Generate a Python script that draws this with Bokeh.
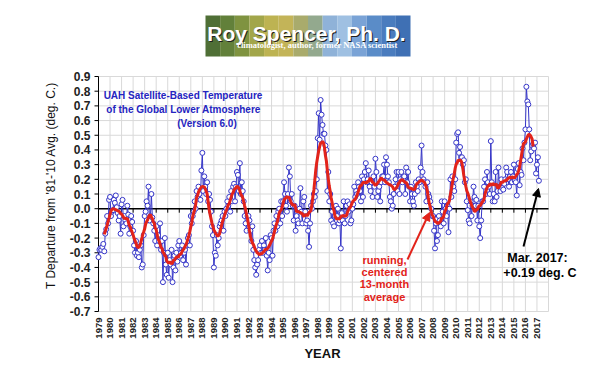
import math
import pandas as pd
from bokeh.plotting import figure
from bokeh.models import Range1d, Label, Arrow, NormalHead, ColumnDataSource
from bokeh.core.properties import value
from bokeh.embed import file_html
from bokeh.resources import INLINE

# ---------------- data: UAH LT v6.0 monthly anomalies (deg C, 1981-2010 base) ----------------
d1979 = [-0.33, -0.28, -0.27, -0.28, -0.26, -0.24, -0.29, -0.17, -0.14, -0.05, -0.10, 0.06]
d1980 = [0.08, -0.05, -0.02, -0.01, 0.06, 0.04, 0.09, 0.01, -0.03, -0.08, -0.05, -0.17]
d1981 = [0.03, 0.06, -0.12, -0.05, -0.08, -0.10, 0.02, -0.04, -0.17, -0.12, -0.05, -0.09]
d1982 = [-0.15, -0.25, -0.30, -0.22, -0.32, -0.30, -0.33, -0.28, -0.25, -0.40, -0.38, -0.18]
d1983 = [-0.05, -0.02, 0.05, 0.02, 0.15, -0.08, -0.05, 0.10, -0.06, -0.10, -0.15, -0.22]
d1984 = [-0.12, -0.25, -0.18, -0.22, -0.10, -0.28, -0.22, -0.50, -0.30, -0.20, -0.38, -0.45]
d1985 = [-0.30, -0.47, -0.35, -0.38, -0.28, -0.50, -0.40, -0.32, -0.42, -0.30, -0.36, -0.25]
d1986 = [-0.22, -0.32, -0.30, -0.25, -0.35, -0.30, -0.28, -0.38, -0.25, -0.20, -0.18, -0.25]
d1987 = [-0.05, -0.10, -0.05, -0.02, 0.05, 0.00, 0.12, 0.08, 0.15, 0.10, 0.06, 0.26]
d1988 = [0.38, 0.12, 0.22, 0.15, 0.10, 0.18, 0.05, 0.10, 0.06, -0.02, -0.12, -0.18]
d1989 = [-0.40, -0.30, -0.32, -0.18, -0.25, -0.20, -0.12, -0.10, -0.08, -0.05, -0.15, -0.02]
d1990 = [-0.05, 0.00, 0.05, 0.02, 0.08, -0.02, 0.12, 0.05, 0.15, 0.17, 0.05, 0.15]
d1991 = [0.25, 0.23, 0.12, 0.31, 0.10, 0.18, 0.12, 0.05, -0.05, -0.10, -0.15, -0.05]
d1992 = [-0.05, -0.08, -0.15, -0.22, -0.12, -0.28, -0.35, -0.40, -0.45, -0.38, -0.35, -0.28]
d1993 = [-0.25, -0.30, -0.22, -0.30, -0.25, -0.28, -0.20, -0.32, -0.42, -0.30, -0.35, -0.18]
d1994 = [-0.20, -0.32, -0.15, -0.10, -0.15, -0.05, -0.12, -0.02, 0.00, -0.10, 0.05, -0.05]
d1995 = [0.05, 0.18, 0.10, 0.02, -0.02, 0.10, 0.28, 0.22, 0.05, 0.10, 0.02, -0.08]
d1996 = [0.02, -0.15, -0.05, -0.08, -0.10, 0.00, 0.14, -0.02, -0.10, 0.05, 0.08, -0.02]
d1997 = [-0.10, -0.08, -0.15, -0.26, -0.10, 0.02, 0.00, 0.05, 0.10, 0.08, 0.12, 0.20]
d1998 = [0.48, 0.65, 0.47, 0.74, 0.64, 0.57, 0.51, 0.51, 0.43, 0.40, 0.12, 0.25]
d1999 = [0.05, 0.10, -0.08, -0.02, -0.10, -0.12, -0.05, 0.02, -0.05, 0.00, -0.10, -0.08]
d2000 = [-0.27, -0.03, -0.08, 0.05, -0.10, -0.05, 0.02, 0.05, -0.02, 0.03, -0.10, -0.08]
d2001 = [0.00, 0.03, 0.15, 0.08, 0.12, 0.10, 0.18, 0.15, 0.12, 0.05, 0.22, 0.08]
d2002 = [0.20, 0.25, 0.31, 0.18, 0.20, 0.26, 0.15, 0.12, 0.18, 0.08, 0.22, 0.15]
d2003 = [0.34, 0.25, 0.08, 0.12, 0.15, 0.05, 0.18, 0.22, 0.22, 0.30, 0.18, 0.35]
d2004 = [0.30, 0.22, 0.18, 0.08, 0.05, 0.00, 0.02, 0.10, 0.15, 0.20, 0.25, 0.12]
d2005 = [0.25, 0.10, 0.20, 0.25, 0.18, 0.20, 0.22, 0.10, 0.28, 0.18, 0.25, 0.15]
d2006 = [0.05, 0.15, 0.10, 0.05, 0.02, 0.10, 0.18, 0.15, 0.12, 0.20, 0.18, 0.28]
d2007 = [0.43, 0.25, 0.20, 0.18, 0.15, 0.05, 0.18, 0.10, 0.08, 0.05, 0.00, -0.05]
d2008 = [-0.05, -0.15, -0.27, -0.10, -0.22, -0.18, -0.05, -0.08, -0.12, 0.05, -0.02, -0.10]
d2009 = [0.05, 0.00, -0.05, 0.02, -0.16, 0.00, 0.20, 0.08, 0.22, 0.15, 0.12, 0.20]
d2010 = [0.45, 0.51, 0.52, 0.38, 0.42, 0.35, 0.35, 0.30, 0.33, 0.18, 0.20, 0.05]
d2011 = [-0.01, -0.08, -0.10, 0.05, -0.05, 0.02, 0.15, 0.08, 0.02, 0.06, -0.08, 0.02]
d2012 = [-0.12, -0.20, -0.08, 0.05, 0.05, 0.15, 0.20, 0.10, 0.25, 0.18, 0.15, 0.10]
d2013 = [0.46, 0.18, 0.05, 0.10, 0.05, 0.25, 0.08, 0.12, 0.28, 0.15, 0.12, 0.20]
d2014 = [0.14, 0.13, 0.17, 0.20, 0.28, 0.25, 0.20, 0.15, 0.22, 0.25, 0.18, 0.22]
d2015 = [0.30, 0.19, 0.18, 0.09, 0.27, 0.31, 0.16, 0.25, 0.23, 0.41, 0.33, 0.45]
d2016 = [0.54, 0.83, 0.73, 0.71, 0.54, 0.33, 0.39, 0.43, 0.44, 0.41, 0.45, 0.24]
d2017 = [0.30, 0.35, 0.19]

yearly = [d1979, d1980, d1981, d1982, d1983, d1984, d1985, d1986, d1987, d1988,
          d1989, d1990, d1991, d1992, d1993, d1994, d1995, d1996, d1997, d1998,
          d1999, d2000, d2001, d2002, d2003, d2004, d2005, d2006, d2007, d2008,
          d2009, d2010, d2011, d2012, d2013, d2014, d2015, d2016, d2017]
first_year = 1979

year_ticks = list(range(1979, 2018))          # labelled years
grid_years = list(range(1979, 2019))          # vertical grid lines
y_ticks = [-0.7, -0.6, -0.5, -0.4, -0.3, -0.2, -0.1, 0.0, 0.1, 0.2, 0.3, 0.4, 0.5, 0.6, 0.7, 0.8, 0.9]

# ---------------- build series ----------------
xs, ys = [], []
for i, vals in enumerate(yearly):
    for m, v in enumerate(vals):
        xs.append(first_year + i + m / 12.0)
        ys.append(v)
rm = pd.Series(ys).rolling(13, center=True).mean()
rx = [x for x, r in zip(xs, rm) if pd.notna(r)]
ry = [r for r in rm if pd.notna(r)]

FONT = "Liberation Sans"
BLUE = "#3535c8"
RED = "#e2231a"
W, H = 614, 365

# page-pixel helpers for placing decorations (chart area: 1979..2018 x -0.7..0.9)
AX_L, AX_R, AX_T, AX_B = 98, 548, 76, 311
PXY = (AX_R - AX_L) / float(grid_years[-1] - grid_years[0])
PYU = (AX_B - AX_T) / float(y_ticks[-1] - y_ticks[0])


def px2x(px):
    return grid_years[0] + (px - AX_L) / PXY


def py2y(py):
    return y_ticks[-1] - (py - AX_T) / PYU


p = figure(width=W, height=H, x_range=Range1d(px2x(0), px2x(W)),
           y_range=Range1d(py2y(H), py2y(0)), toolbar_location=None, output_backend="svg",
           x_axis_location=None, y_axis_location=None, title_location=None, min_border=0)
p.outline_line_color = None
p.grid.visible = False
p.background_fill_color = "white"

# ---------------- header banner ----------------
banner_colors = ["#4f6f36", "#62803a", "#7f9340", "#a2a64a", "#bdb352", "#c3b458",
                 "#a9ab6c", "#93a98e", "#8fb2d8", "#9fc0e2", "#7aa3d6", "#5a8cc8",
                 "#4a7cbe", "#3f70b4"]
bl, br = 205, 410
step = (br - bl) / len(banner_colors)
p.quad(left=[px2x(bl + i * step) for i in range(len(banner_colors))],
       right=[px2x(bl + (i + 1) * step) for i in range(len(banner_colors))],
       bottom=py2y(56), top=py2y(15), fill_color=banner_colors, line_color=None)
p.add_layout(Label(x=px2x(307), y=py2y(34), text="Roy Spencer, Ph. D.", text_align="center",
                   text_baseline="middle", text_font=FONT, text_font_style="bold",
                   text_font_size="21px", text_color="#1e1e1e"))
p.add_layout(Label(x=px2x(306), y=py2y(33), text="Roy Spencer, Ph. D.", text_align="center",
                   text_baseline="middle", text_font=FONT, text_font_style="bold",
                   text_font_size="21px", text_color="white"))
p.add_layout(Label(x=px2x(317), y=py2y(44), text="climatologist, author, former NASA scientist",
                   text_align="center", text_baseline="middle", text_font="Liberation Serif",
                   text_font_style="bold", text_font_size="8.5px", text_color="white"))

# ---------------- grid ----------------
GRID = "#d9d9d9"
p.segment(x0=grid_years, y0=[y_ticks[0]] * len(grid_years), x1=grid_years,
          y1=[y_ticks[-1]] * len(grid_years), line_color=GRID, line_width=1)
p.segment(x0=[grid_years[0]] * len(y_ticks), y0=y_ticks, x1=[grid_years[-1]] * len(y_ticks),
          y1=y_ticks, line_color=GRID, line_width=1)

# ---------------- y axis ----------------
p.segment(x0=[grid_years[0]], y0=[y_ticks[0]], x1=[grid_years[0]], y1=[y_ticks[-1]],
          line_color="black", line_width=1)
p.segment(x0=[px2x(AX_L - 4)] * len(y_ticks), y0=y_ticks, x1=[grid_years[0]] * len(y_ticks),
          y1=y_ticks, line_color="black", line_width=1)
p.text(x=[px2x(AX_L - 8)] * len(y_ticks), y=y_ticks, text=["%.1f" % v for v in y_ticks],
       text_align="right", text_baseline="middle", text_font=value(FONT),
       text_font_style="bold", text_font_size="12px", text_color="#222222")
p.add_layout(Label(x=px2x(50), y=py2y(185), text="T Departure from '81-'10 Avg. (deg. C.)",
                   angle=math.pi / 2, text_align="center", text_baseline="middle",
                   text_font=FONT, text_font_size="12px", text_color="#111111"))

# ---------------- x axis labels ----------------
p.text(x=year_ticks, y=[py2y(AX_B + 6)] * len(year_ticks), text=[str(v) for v in year_ticks],
       angle=math.pi / 2, text_align="right", text_baseline="middle", text_font=value(FONT),
       text_font_style="bold", text_font_size="9.5px", text_color="#222222")
p.add_layout(Label(x=px2x(322), y=py2y(353), text="YEAR", text_align="center",
                   text_baseline="middle", text_font=FONT, text_font_style="bold",
                   text_font_size="13px", text_color="#111111"))

# zero line with year ticks
p.segment(x0=[grid_years[0]], y0=[0], x1=[grid_years[-1]], y1=[0], line_color="black", line_width=1.5)
p.segment(x0=year_ticks, y0=[0] * len(year_ticks), x1=year_ticks,
          y1=[py2y(AX_T + (0.9 * PYU) + 4)] * len(year_ticks), line_color="black", line_width=1)

# ---------------- data ----------------
src = ColumnDataSource(dict(x=xs, y=ys))
p.line("x", "y", source=src, line_color=BLUE, line_width=1)
p.scatter("x", "y", source=src, size=5, line_color=BLUE, fill_color="white", line_width=1)
p.line(rx, ry, line_color=RED, line_width=3)

# title block
for txt, cx, cy in [("UAH Satellite-Based Temperature", 182.5, 95),
                    ("of the Global Lower Atmosphere", 183, 109),
                    ("(Version 6.0)", 206.5, 123)]:
    p.add_layout(Label(x=px2x(cx), y=py2y(cy), text=txt, text_align="center",
                       text_baseline="middle", text_font=FONT, text_font_style="bold",
                       text_font_size="10px", text_color="#2424c0"))

# red annotation
for txt, cy in [("running,", 259), ("centered", 271), ("13-month", 283), ("average", 296)]:
    p.add_layout(Label(x=px2x(384), y=py2y(cy), text=txt, text_align="center",
                       text_baseline="middle", text_font=FONT, text_font_style="bold",
                       text_font_size="11px", text_color=RED))
p.add_layout(Arrow(end=NormalHead(size=8, fill_color=RED, line_color=RED),
                   x_start=px2x(407), y_start=py2y(259), x_end=px2x(429), y_end=py2y(212),
                   line_color=RED, line_width=2))

# last month annotation
for txt, cx, cy in [("Mar. 2017:", 537, 257), ("+0.19 deg. C", 539.5, 272)]:
    p.add_layout(Label(x=px2x(cx), y=py2y(cy), text=txt, text_align="center",
                       text_baseline="middle", text_font=FONT, text_font_style="bold",
                       text_font_size="12.5px", text_color="black"))
p.add_layout(Arrow(end=NormalHead(size=8, fill_color="black", line_color="black"),
                   x_start=px2x(523), y_start=py2y(246), x_end=px2x(538), y_end=py2y(188),
                   line_color="black", line_width=2))

open("out.html", "w").write(file_html(p, INLINE))
